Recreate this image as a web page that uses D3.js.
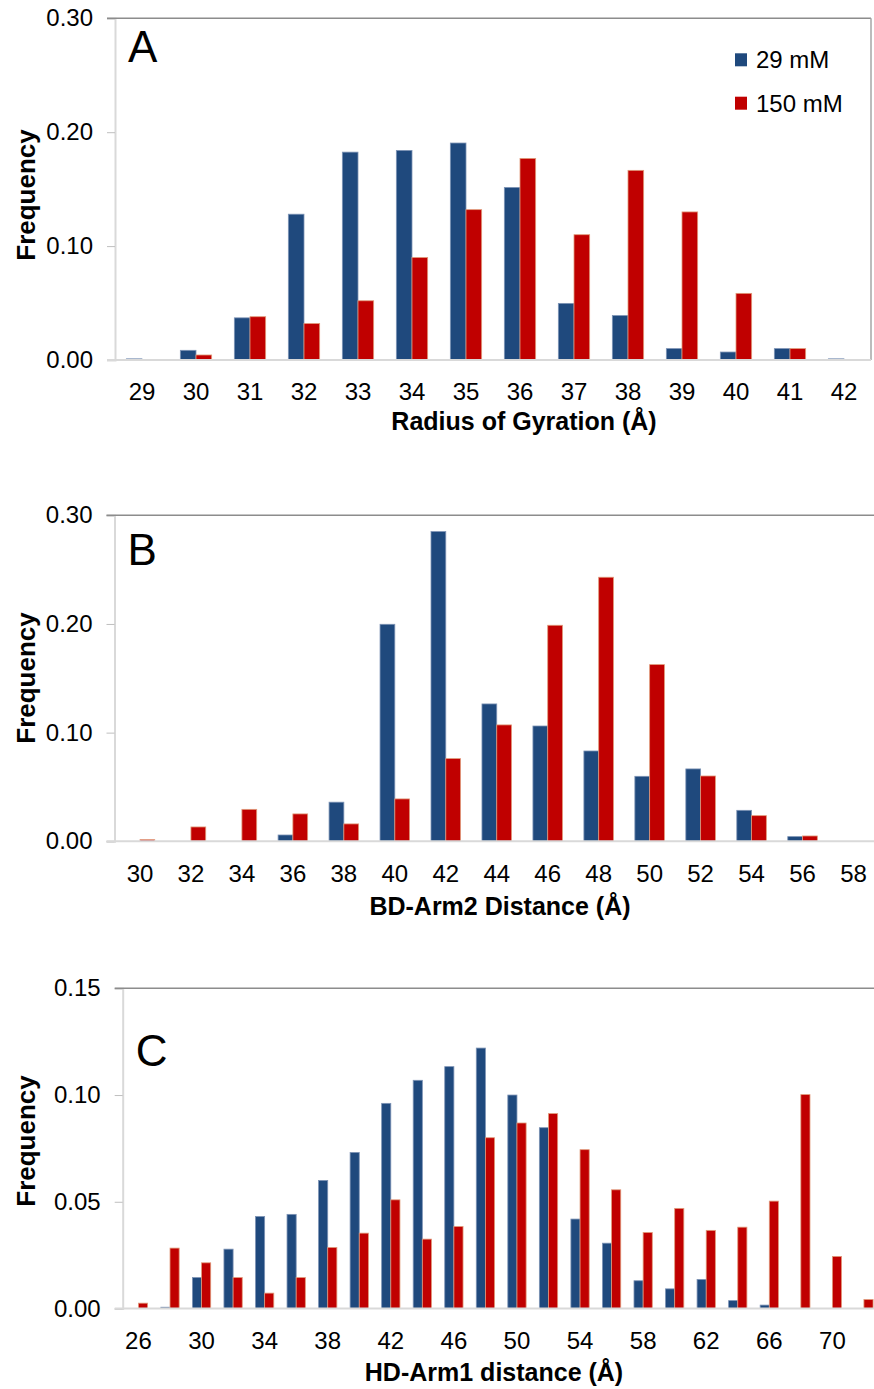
<!DOCTYPE html>
<html>
<head>
<meta charset="utf-8">
<script src="https://cdn.jsdelivr.net/npm/d3@7"></script>
<style>
  body { margin: 0; background: #fff; }
  svg { display: block; font-family: Arial, "Liberation Sans", sans-serif; }
</style>
</head>
<body>
<div id="chart"></div>
<script>
  // Series names and colours
  var seriesNames = ["29 mM", "150 mM"];
  var seriesColors = ["#1F497D", "#C00000"];
  var seriesStrokes = ["#7d93b5", "#e09a7a"];

  // Panel A: radius of gyration
  var rgCats = ["29", "30", "31", "32", "33", "34", "35", "36", "37", "38", "39", "40", "41", "42"];
  var rgLow  = [0.001, 0.0085, 0.037, 0.128, 0.1825, 0.184, 0.1905, 0.1515, 0.0497, 0.039, 0.010, 0.007, 0.010, 0.001];
  var rgHigh = [0, 0.0044, 0.038, 0.032, 0.052, 0.090, 0.132, 0.177, 0.110, 0.1665, 0.130, 0.0585, 0.010, 0];
  var rgTicks = [0, 0.10, 0.20, 0.30];

  // Panel B: BD-Arm2 distance
  var bdCats = ["30", "32", "34", "36", "38", "40", "42", "44", "46", "48", "50", "52", "54", "56", "58"];
  var bdLow  = [0, 0, 0, 0.0058, 0.036, 0.1997, 0.285, 0.1264, 0.1061, 0.0831, 0.0598, 0.0666, 0.0285, 0.0043, 0];
  var bdHigh = [0.0015, 0.0132, 0.0294, 0.0252, 0.016, 0.039, 0.0761, 0.1071, 0.1988, 0.243, 0.1626, 0.0601, 0.0236, 0.0049, 0];
  var bdTicks = [0, 0.10, 0.20, 0.30];

  // Panel C: HD-Arm1 distance
  var hdCats = ["26", "28", "30", "32", "34", "36", "38", "40", "42", "44", "46", "48",
                "50", "52", "54", "56", "58", "60", "62", "64", "66", "68", "70", "72"];
  var hdLow  = [0, 0.0006, 0.0145, 0.0278, 0.0431, 0.0441, 0.060, 0.0731, 0.0961, 0.1069, 0.1133, 0.122,
                0.100, 0.0847, 0.0419, 0.0306, 0.013, 0.0092, 0.0136, 0.0037, 0.0016, 0, 0, 0];
  var hdHigh = [0.0025, 0.0283, 0.0214, 0.0145, 0.0072, 0.0145, 0.0286, 0.0353, 0.0509, 0.0325, 0.0384, 0.080,
                0.0869, 0.0913, 0.0744, 0.0556, 0.0356, 0.0469, 0.0366, 0.0381, 0.0503, 0.1002, 0.0244, 0.0042];
  var hdTicks = [0, 0.05, 0.10, 0.15];

  var width = 874,
      height = 1389;

  var svg = d3.select("#chart")
    .append("svg")
      .attr("width", width)
      .attr("height", height);

  var panels = [
    { letter: "A", cats: rgCats, values: [rgLow, rgHigh], ticks: rgTicks, title: "Radius of Gyration (\u00C5)",
      left: 115, right: 871, top: 18.3, bottom: 360, labelEvery: 1,
      tickY: 400, titleX: 524, titleY: 430, letterY: 62, freqY: 195, legend: true, rightBorder: true },
    { letter: "B", cats: bdCats, values: [bdLow, bdHigh], ticks: bdTicks, title: "BD-Arm2 Distance (\u00C5)",
      left: 114.5, right: 879, top: 515.3, bottom: 841.3, labelEvery: 1,
      tickY: 881.7, titleX: 500, titleY: 915, letterY: 565, freqY: 678, legend: false, rightBorder: false },
    { letter: "C", cats: hdCats, values: [hdLow, hdHigh], ticks: hdTicks, title: "HD-Arm1 distance (\u00C5)",
      left: 122.7, right: 879.7, top: 988.3, bottom: 1308.5, labelEvery: 2,
      tickY: 1349, titleX: 494, titleY: 1381, letterY: 1066, freqY: 1141, legend: false, rightBorder: false }
  ];

  panels.forEach(drawPanel);

  function drawPanel(p) {
    var g = svg.append("g");

    var x = d3.scaleBand()
      .domain(p.cats)
      .range([p.left, p.right])
      .padding(0);

    var bw = x.bandwidth();
    // Two bars side by side, centred in each category
    var x1 = d3.scaleBand()
      .domain(d3.range(seriesNames.length))
      .range([bw * 0.21, bw * 0.79]);

    var y = d3.scaleLinear()
      .domain([0, d3.max(p.ticks)])
      .range([p.bottom, p.top]);

    // Left axis with small ticks
    var yAxis = g.append("g")
      .attr("transform", "translate(" + p.left + ",0)")
      .call(d3.axisLeft(y).tickValues(p.ticks).tickSize(8).tickPadding(14).tickFormat(d3.format(".2f")));
    yAxis.select(".domain").attr("stroke", "#d9d9d9").attr("stroke-width", 2);
    yAxis.selectAll(".tick line").attr("stroke", "#bfbfbf");
    yAxis.selectAll(".tick text")
      .attr("fill", "#000")
      .style("font-size", "24px");

    // Top border line and optional right border
    g.append("line")
      .attr("x1", p.left - 8).attr("x2", p.right)
      .attr("y1", y(d3.max(p.ticks))).attr("y2", y(d3.max(p.ticks)))
      .attr("stroke", "#8c8c8c").attr("stroke-width", 1.5);
    if (p.rightBorder) {
      g.append("line")
        .attr("x1", p.right).attr("x2", p.right)
        .attr("y1", p.top).attr("y2", p.bottom)
        .attr("stroke", "#a6a6a6").attr("stroke-width", 1.5);
    }

    // Bars (zero values are skipped)
    seriesNames.forEach(function(name, si) {
      var rows = p.cats
        .map(function(c, i) { return { cat: c, value: p.values[si][i] }; })
        .filter(function(d) { return d.value > 0; });

      g.append("g")
        .selectAll("rect")
        .data(rows)
        .enter()
        .append("rect")
          .attr("x", function(d) { return x(d.cat) + x1(si); })
          .attr("y", function(d) { return y(d.value); })
          .attr("width", x1.bandwidth())
          .attr("height", function(d) { return p.bottom - y(d.value); })
          .attr("fill", seriesColors[si])
          .attr("stroke", seriesStrokes[si])
          .attr("stroke-width", 0.8);
    });

    // Baseline
    g.append("line")
      .attr("x1", p.left - 8).attr("x2", p.right)
      .attr("y1", p.bottom).attr("y2", p.bottom)
      .attr("stroke", "#d9d9d9").attr("stroke-width", 2);

    // Category labels
    g.append("g")
      .selectAll("text")
      .data(p.cats.filter(function(c, i) { return i % p.labelEvery === 0; }))
      .enter()
      .append("text")
        .attr("x", function(d) { return x(d) + bw / 2; })
        .attr("y", p.tickY)
        .attr("text-anchor", "middle")
        .style("font-size", "24px")
        .text(function(d) { return d; });

    // Axis titles
    g.append("text")
      .attr("x", p.titleX)
      .attr("y", p.titleY)
      .attr("text-anchor", "middle")
      .style("font-size", "25px")
      .style("font-weight", "bold")
      .text(p.title);

    g.append("text")
      .attr("transform", "translate(35," + p.freqY + ") rotate(-90)")
      .attr("text-anchor", "middle")
      .style("font-size", "26px")
      .style("font-weight", "bold")
      .text("Frequency");

    // Panel letter
    g.append("text")
      .attr("x", p.left + 13)
      .attr("y", p.letterY)
      .style("font-size", "44px")
      .text(p.letter);

    // Legend
    if (p.legend) {
      seriesNames.forEach(function(name, si) {
        var ly = 53.3 + si * 43.4;
        g.append("rect")
          .attr("x", 735).attr("y", ly)
          .attr("width", 12).attr("height", 13)
          .attr("fill", seriesColors[si]);
        g.append("text")
          .attr("x", 756).attr("y", ly + 15)
          .style("font-size", "24px")
          .text(name);
      });
    }
  }
</script>
</body>
</html>
